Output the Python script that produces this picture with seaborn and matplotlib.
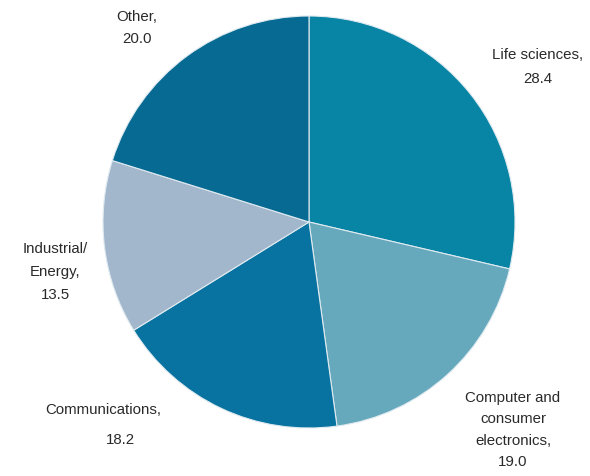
import matplotlib
matplotlib.use("Agg")
import matplotlib.pyplot as plt
import seaborn as sns

sns.set_theme(style="white")
plt.rcParams['font.family'] = ['Liberation Sans', 'DejaVu Sans']

categories = ["Life sciences", "Computer and consumer electronics", "Communications",
              "Industrial/Energy", "Other"]
values = [28.4, 19.0, 18.2, 13.5, 20.0]
colors = ["#0884A5", "#66A8BC", "#0873A0", "#A2B6CC", "#076A92"]
label_texts = ["Life sciences,\n28.4", "Computer and\nconsumer\nelectronics,\n19.0",
               "Communications,", "Industrial/\nEnergy,\n13.5", "Other,\n20.0"]

fig = plt.figure(figsize=(5.9, 4.77), dpi=100)
W, H = 590, 477
cx, cy, r = 309, 223, 206
ax = fig.add_axes([(cx - r) / W, (H - cy - r) / H, 2 * r / W, 2 * r / H])
ax.pie(values, colors=colors, startangle=90, counterclock=False,
       wedgeprops=dict(edgecolor="#dfeaf0", linewidth=0.8))
ax.set_xlim(-1, 1)
ax.set_ylim(-1, 1)
ax.set_aspect("equal")
ax.axis("off")

pos = [(1.11, 0.757), (0.99, -1.005), (-1.0, -0.908), (-1.233, -0.238), (-0.835, 0.947)]
spacing = [1.9, 1.65, 1.5, 1.85, 1.75]
for t, (x, y), ls in zip(label_texts, pos, spacing):
    ax.text(x, y, t, ha="center", va="center", fontsize=10.8, color="#2a2a2a",
            linespacing=ls, clip_on=False)
ax.text(-0.913, -1.053, "18.2", ha="center", va="center", fontsize=10.8,
        color="#2a2a2a", clip_on=False)

fig.savefig("out.png", dpi=100)
